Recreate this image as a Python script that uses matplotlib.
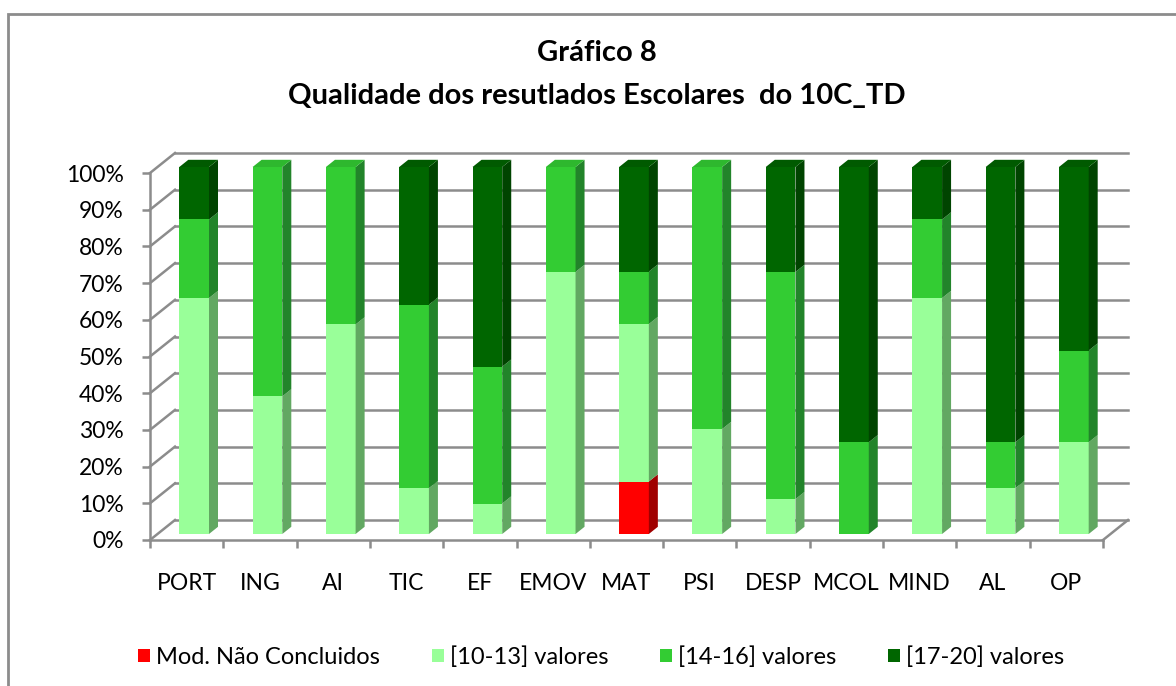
import matplotlib
matplotlib.use("Agg")
import matplotlib.pyplot as plt
from matplotlib.patches import Polygon, Patch, Rectangle
from matplotlib.lines import Line2D
import numpy as np

categories = ['PORT', 'ING', 'AI', 'TIC', 'EF', 'EMOV', 'MAT', 'PSI', 'DESP', 'MCOL', 'MIND', 'AL', 'OP']
nao_concluidos = [0, 0, 0, 0, 0, 0, 14.3, 0, 0, 0, 0, 0, 0]
v10_13 = [64.3, 37.5, 57.1, 12.5, 8.3, 71.4, 42.9, 28.6, 9.5, 0, 64.3, 12.5, 25.0]
v14_16 = [21.4, 62.5, 42.9, 50.0, 37.3, 28.6, 14.3, 71.4, 61.9, 25.0, 21.4, 12.5, 25.0]
v17_20 = [14.3, 0, 0, 37.5, 54.4, 0, 28.5, 0, 28.6, 75.0, 14.3, 75.0, 50.0]
series_names = ['Mod. Não Concluidos', '[10-13] valores', '[14-16] valores', '[17-20] valores']
yticks = [0, 10, 20, 30, 40, 50, 60, 70, 80, 90, 100]
title_lines = ['Gráfico 8', 'Qualidade dos resutlados Escolares  do 10C_TD']

front_cols = ['#FF0000', '#99FF99', '#33CC33', '#006600']
side_cols = ['#A00000', '#62A862', '#22842A', '#004400']
top_cols = ['#D00000', '#8AE68A', '#2EB82E', '#005A00']

FONT = 'Lato'
plt.rcParams['font.family'] = [FONT, 'DejaVu Sans']

W, H = 1176, 686
fig = plt.figure(figsize=(W / 100, H / 100), dpi=100)
fig.patch.set_facecolor('white')

# outer chart frame
fig.add_artist(Rectangle((8 / W, -0.1), 1.2, 1 - 14 / H + 0.1, transform=fig.transFigure,
                         fill=False, edgecolor='#8c8c8c', lw=2))

x0, x1, ytop, ybot = 150, 1103, 173, 540
ax = fig.add_axes([x0 / W, 1 - ybot / H, (x1 - x0) / W, (ybot - ytop) / H])
ax.set_xlim(-0.5, len(categories) - 0.5)
ax.set_ylim(0, 100)
ax.set_facecolor('none')

px_per_cat = (x1 - x0) / len(categories)
px_per_pct = (ybot - ytop) / 100
DX = 25 / px_per_cat
DY = 20 / px_per_pct
d0, d1 = 0.30, 0.66
BW = 0.405

grid_col = '#8c8c8c'
n = len(categories)
xl = -0.5
xr = n - 0.5
# back wall gridlines and left wall diagonals
for yv in yticks:
    ax.add_line(Line2D([xl + DX, xr + DX], [yv + DY, yv + DY], color=grid_col, lw=1.8,
                       clip_on=False, zorder=1))
    ax.add_line(Line2D([xl, xl + DX], [yv, yv + DY], color=grid_col, lw=1.8,
                       clip_on=False, zorder=1))
# floor right edge
ax.add_line(Line2D([xr, xr + DX], [0, DY], color=grid_col, lw=1.8, clip_on=False, zorder=1))

series = [nao_concluidos, v10_13, v14_16, v17_20]
xs = np.arange(n)
bottoms = np.zeros(n)
tops = np.sum(np.array(series), axis=0)
for si, vals in enumerate(series):
    vals = np.array(vals, dtype=float)
    mask = vals > 0
    ax.bar(xs[mask] + d0 * DX, vals[mask], bottom=bottoms[mask] + d0 * DY, width=BW,
           color=front_cols[si], zorder=3, clip_on=False, linewidth=0)
    for i in xs[mask]:
        b = bottoms[i]
        h = vals[i]
        xrb = i + BW / 2
        side = [(xrb + d0 * DX, b + d0 * DY), (xrb + d1 * DX, b + d1 * DY),
                (xrb + d1 * DX, b + h + d1 * DY), (xrb + d0 * DX, b + h + d0 * DY)]
        ax.add_patch(Polygon(side, closed=True, facecolor=side_cols[si], edgecolor='none',
                             zorder=3, clip_on=False))
        if abs(b + h - tops[i]) < 1e-6:
            xlb = i - BW / 2
            t = b + h
            top = [(xlb + d0 * DX, t + d0 * DY), (xrb + d0 * DX, t + d0 * DY),
                   (xrb + d1 * DX, t + d1 * DY), (xlb + d1 * DX, t + d1 * DY)]
            ax.add_patch(Polygon(top, closed=True, facecolor=top_cols[si], edgecolor='none',
                                 zorder=3, clip_on=False))
    bottoms = bottoms + vals

for s in ['top', 'right']:
    ax.spines[s].set_visible(False)
for s in ['left', 'bottom']:
    ax.spines[s].set_color(grid_col)
    ax.spines[s].set_linewidth(1.8)

ax.set_yticks(yticks)
ax.set_yticklabels([f'{v}%' for v in yticks])
ax.set_xticks(xs)
ax.set_xticklabels(categories)
ax.set_xticks(np.arange(-0.5, n, 1.0), minor=True)
ax.tick_params(axis='y', length=6, width=1.8, color=grid_col, pad=13, labelsize=16.5,
               labelcolor='black')
ax.tick_params(axis='x', which='major', length=0, pad=24, labelsize=16.5, labelcolor='black')
ax.tick_params(axis='x', which='minor', length=6, width=1.8, color=grid_col)

fig.text(597 / W, 1 - 53 / H, title_lines[0], ha='center', va='center', fontsize=21,
         fontweight='bold')
fig.text(597 / W, 1 - 96 / H, title_lines[1], ha='center', va='center', fontsize=21,
         fontweight='bold')

handles = [Patch(facecolor=c, edgecolor='none') for c in front_cols]
fig.legend(handles, series_names, loc='center', bbox_to_anchor=(601 / W, 1 - 657 / H), ncol=4,
           frameon=False, fontsize=17, handlelength=0.5, handleheight=0.5,
           handletextpad=0.25, columnspacing=2.2)

fig.savefig('out.png', dpi=100)
